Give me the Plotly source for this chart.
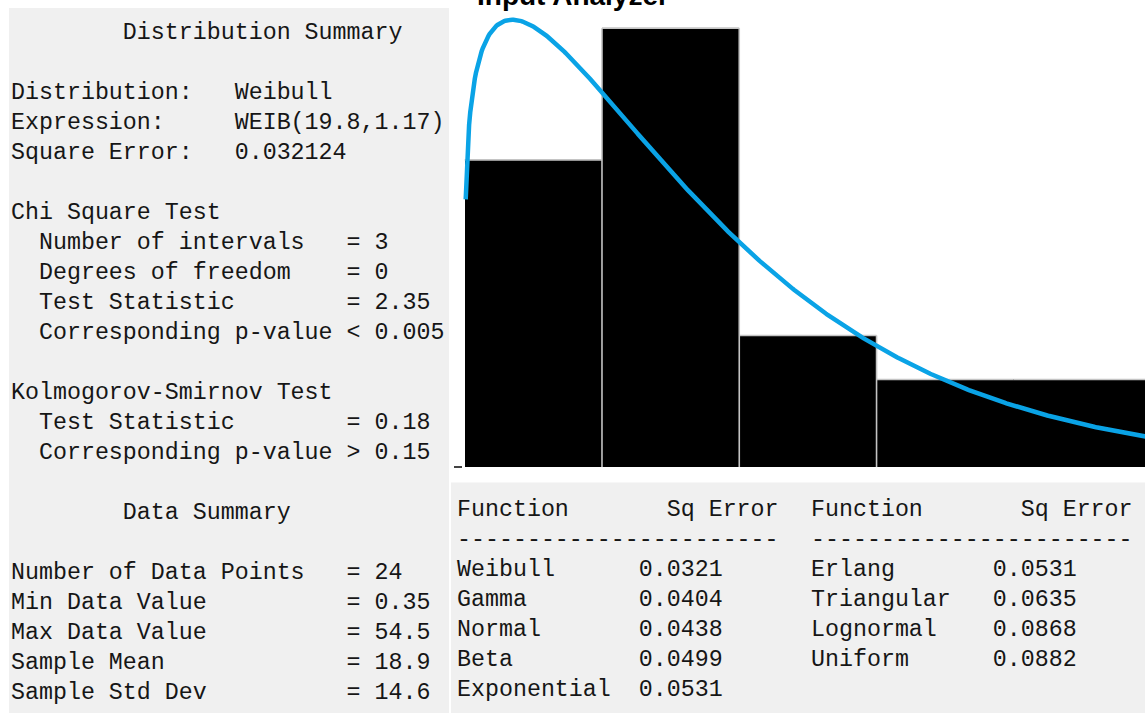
import numpy as np
import plotly.graph_objects as go

W, H = 1145, 713

# Histogram of the 24 observations (equal-width intervals)
BIN_EDGES = [0, 11, 22, 33, 44, 55]
COUNTS = [7, 10, 3, 2, 2]
N_POINTS = 24

# Fitted distribution: WEIB(scale, shape)
WEIB_SCALE = 19.8
WEIB_SHAPE = 1.17
CURVE_START = 0.08

# Distribution / data summary text
SUMMARY_LINES = [
    "        Distribution Summary",
    "",
    "Distribution:   Weibull",
    "Expression:     WEIB(19.8,1.17)",
    "Square Error:   0.032124",
    "",
    "Chi Square Test",
    "  Number of intervals   = 3",
    "  Degrees of freedom    = 0",
    "  Test Statistic        = 2.35",
    "  Corresponding p-value < 0.005",
    "",
    "Kolmogorov-Smirnov Test",
    "  Test Statistic        = 0.18",
    "  Corresponding p-value > 0.15",
    "",
    "        Data Summary",
    "",
    "Number of Data Points   = 24",
    "Min Data Value          = 0.35",
    "Max Data Value          = 54.5",
    "Sample Mean             = 18.9",
    "Sample Std Dev          = 14.6",
]

# Square-error ranking of the candidate functions
FUNCS_LEFT = ["Weibull", "Gamma", "Normal", "Beta", "Exponential"]
ERRS_LEFT = ["0.0321", "0.0404", "0.0438", "0.0499", "0.0531"]
FUNCS_RIGHT = ["Erlang", "Triangular", "Lognormal", "Uniform"]
ERRS_RIGHT = ["0.0531", "0.0635", "0.0868", "0.0882"]

MONO = "Liberation Mono, Courier New, monospace"
NB = "\u00a0"
FS = 23.3


def px_x(p):
    return p / W


def px_y(p):
    return 1 - p / H


edges = np.array(BIN_EDGES, dtype=float)
centers = (edges[:-1] + edges[1:]) / 2
widths = np.diff(edges)
rel_freq = np.array(COUNTS) / N_POINTS
bin_w = widths[0]

xs = np.linspace(CURVE_START, 54.6, 600)
a, b = WEIB_SHAPE, WEIB_SCALE
pdf = a * b ** (-a) * xs ** (a - 1) * np.exp(-((xs / b) ** a))
curve = pdf * bin_w

# histogram outline: bar tops, plus dividers where neighbouring counts differ
ox, oy = [], []
for k in range(len(COUNTS)):
    ox += [edges[k], edges[k + 1], None]
    oy += [rel_freq[k], rel_freq[k], None]
for k in range(1, len(COUNTS)):
    if COUNTS[k] != COUNTS[k - 1]:
        ox += [edges[k], edges[k], None]
        oy += [0, max(rel_freq[k], rel_freq[k - 1]), None]

fig = go.Figure()
fig.add_trace(go.Bar(
    x=centers, y=rel_freq, width=widths,
    marker=dict(color="#000000", line=dict(width=0)),
    hoverinfo="skip", showlegend=False,
))
fig.add_trace(go.Scatter(
    x=ox, y=oy, mode="lines", line=dict(color="#c4c4c4", width=1.6),
    hoverinfo="skip", showlegend=False,
))
fig.add_trace(go.Scatter(
    x=xs, y=curve, mode="lines",
    line=dict(color="#0aa3e6", width=4.5),
    cliponaxis=False, hoverinfo="skip", showlegend=False,
))

shapes = [
    dict(type="rect", xref="paper", yref="paper",
         x0=px_x(9), x1=px_x(449), y0=px_y(713), y1=px_y(8),
         fillcolor="#f0f0f0", line=dict(width=0), layer="below"),
    dict(type="rect", xref="paper", yref="paper",
         x0=px_x(451), x1=px_x(1145), y0=px_y(713), y1=px_y(482.5),
         fillcolor="#f0f0f0", line=dict(width=0), layer="below"),
]

annotations = []


def add_text(txt, x, yc, size=FS, family=MONO, color="#161616"):
    annotations.append(dict(
        text=txt.replace(" ", NB), x=px_x(x), y=px_y(yc),
        xref="paper", yref="paper", xanchor="left", yanchor="middle",
        showarrow=False, borderpad=0, borderwidth=0,
        font=dict(family=family, size=size, color=color),
    ))


for i, line in enumerate(SUMMARY_LINES):
    if line:
        add_text(line, 11, 33 + 30 * i)

# function table, two blocks
for x0, funcs, errs in ((457, FUNCS_LEFT, ERRS_LEFT), (811, FUNCS_RIGHT, ERRS_RIGHT)):
    add_text("Function       Sq Error", x0, 509.5)
    add_text("-" * 23, x0, 539.5)
    for j, (f, e) in enumerate(zip(funcs, errs)):
        add_text(f.ljust(13) + e, x0, 569.5 + 30 * j)

annotations.append(dict(
    text="<b>Input Analyzer</b>", x=px_x(476), y=px_y(12),
    xref="paper", yref="paper", xanchor="left", yanchor="bottom",
    showarrow=False, borderpad=0,
    font=dict(family="Liberation Sans, Arial, sans-serif", size=28, color="#000000"),
))

fig.update_layout(
    width=W, height=H,
    margin=dict(l=0, r=0, t=0, b=0),
    paper_bgcolor="#ffffff", plot_bgcolor="#ffffff",
    bargap=0, shapes=shapes, annotations=annotations,
    xaxis=dict(domain=[px_x(463), 1], range=[-0.136, 54.51],
               showgrid=False, zeroline=False, showticklabels=False,
               ticks="", showline=False, fixedrange=True),
    yaxis=dict(domain=[px_y(467.3), px_y(8)], range=[0, (467.3 - 8) / 1054],
               showgrid=False, zeroline=False, showticklabels=False,
               tickvals=[0], ticks="outside", ticklen=8, tickwidth=2,
               tickcolor="#444444", showline=False, fixedrange=True),
)

fig.write_html("out.html", config={"displayModeBar": False})
